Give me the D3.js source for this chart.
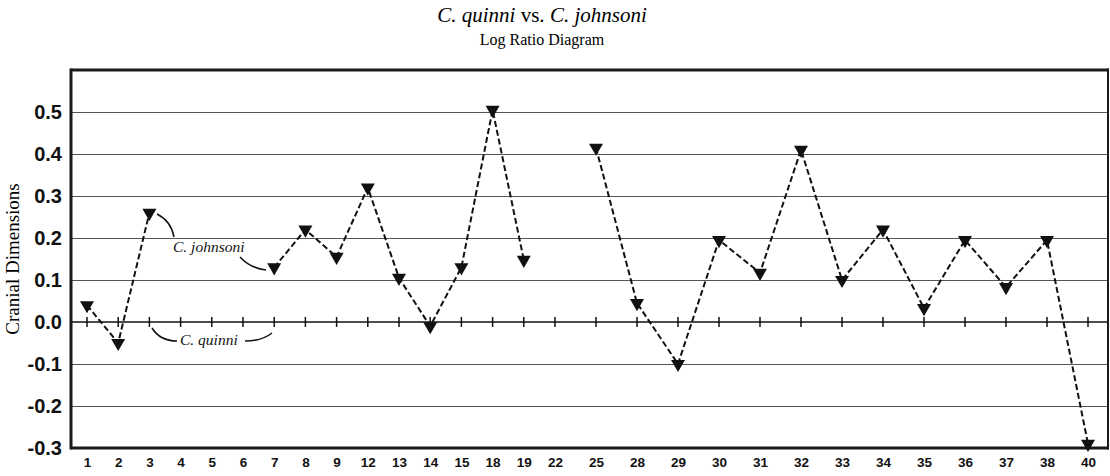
<!DOCTYPE html>
<html>
<head>
<meta charset="utf-8">
<script src="https://cdn.jsdelivr.net/npm/d3@7"></script>
<style>
  html, body { margin: 0; padding: 0; background: #fff; }
  svg { display: block; }
</style>
</head>
<body>
<svg id="chart" width="1110" height="476"></svg>
<script>
// ---- data ----
const categories = ["1","2","3","4","5","6","7","8","9","12","13","14","15","18","19","22","25","28","29","30","31","32","33","34","35","36","37","38","40"];
const logRatios = [0.04,-0.05,0.26,null,null,null,0.13,0.22,0.155,0.32,0.105,-0.01,0.13,0.505,0.148,null,0.415,0.045,-0.1,0.195,0.117,0.41,0.1,0.22,0.033,0.195,0.083,0.195,-0.29];
const yTicks = [-0.3,-0.2,-0.1,0.0,0.1,0.2,0.3,0.4,0.5];
const gridValues = [-0.2,-0.1,0.1,0.2,0.3,0.4,0.5];

(function () {
const svg = d3.select("#chart");
const pLeft = 71, pRight = 1108, pTop = 70, pBottom = 448;

// two panels with different category spacing (composite figure)
const x = d3.scaleLinear().domain([0, 15, 28]).range([87, 555, 1088]);
const y = d3.scaleLinear().domain([-0.3, 0.6]).range([pBottom, pTop]);

// titles
const title = svg.append("text")
  .attr("x", 542).attr("y", 22)
  .attr("text-anchor", "middle")
  .attr("font-family", "Liberation Serif, Times New Roman, serif")
  .attr("font-size", 21);
title.append("tspan").attr("font-style", "italic").text("C. quinni");
title.append("tspan").text(" vs. ");
title.append("tspan").attr("font-style", "italic").text("C. johnsoni");

svg.append("text")
  .attr("x", 542).attr("y", 45)
  .attr("text-anchor", "middle")
  .attr("font-family", "Liberation Serif, Times New Roman, serif")
  .attr("font-size", 16)
  .text("Log Ratio Diagram");

// y label
svg.append("text")
  .attr("transform", `translate(19,${(pTop + pBottom) / 2}) rotate(-90)`)
  .attr("text-anchor", "middle")
  .attr("font-family", "Liberation Serif, Times New Roman, serif")
  .attr("font-size", 19)
  .text("Cranial Dimensions");

// gridlines
const grid = svg.append("g")
  .attr("transform", `translate(${pLeft},0)`)
  .call(d3.axisLeft(y).tickValues(gridValues).tickSize(-(pRight - pLeft)).tickFormat(""));
grid.select(".domain").remove();
grid.selectAll(".tick line").attr("stroke", "#555").attr("stroke-width", 1);

// zero line with category ticks
svg.append("line")
  .attr("x1", pLeft).attr("x2", pRight)
  .attr("y1", y(0)).attr("y2", y(0))
  .attr("stroke", "#111").attr("stroke-width", 1.3);
svg.append("g").selectAll("line")
  .data(categories)
  .join("line")
  .attr("x1", (d, i) => x(i)).attr("x2", (d, i) => x(i))
  .attr("y1", y(0) - 5).attr("y2", y(0) + 5)
  .attr("stroke", "#111").attr("stroke-width", 1.5);

// y axis labels
const yAxis = svg.append("g")
  .attr("transform", `translate(${pLeft},0)`)
  .call(d3.axisLeft(y).tickValues(yTicks).tickSize(0).tickPadding(9).tickFormat(d => d.toFixed(1)));
yAxis.select(".domain").remove();
yAxis.selectAll("text")
  .attr("font-family", "Liberation Sans, Arial, sans-serif")
  .attr("font-weight", "bold")
  .attr("font-size", 20)
  .attr("fill", "#111");

// x axis labels
const xAxis = svg.append("g")
  .attr("transform", `translate(0,${pBottom})`)
  .call(d3.axisBottom(x).tickValues(d3.range(categories.length)).tickSize(0).tickPadding(9).tickFormat(i => categories[i]));
xAxis.select(".domain").remove();
xAxis.selectAll("text")
  .attr("font-family", "Liberation Sans, Arial, sans-serif")
  .attr("font-weight", "bold")
  .attr("font-size", 13.5)
  .attr("fill", "#111");

// frame
const frame = svg.append("g").attr("stroke", "#1a1a1a").attr("fill", "none");
frame.append("line").attr("x1", pLeft).attr("x2", pRight + 1).attr("y1", pTop).attr("y2", pTop).attr("stroke-width", 3);
frame.append("line").attr("x1", pLeft).attr("x2", pRight + 1).attr("y1", pBottom).attr("y2", pBottom).attr("stroke-width", 3);
frame.append("line").attr("x1", pLeft).attr("x2", pLeft).attr("y1", pTop - 1.5).attr("y2", pBottom + 1.5).attr("stroke-width", 3);
frame.append("line").attr("x1", pRight).attr("x2", pRight).attr("y1", pTop - 1.5).attr("y2", pBottom + 1.5).attr("stroke-width", 2);

// data line
const line = d3.line()
  .defined(d => d != null)
  .x((d, i) => x(i))
  .y(d => y(d));
svg.append("path")
  .datum(logRatios)
  .attr("d", line)
  .attr("fill", "none")
  .attr("stroke", "#111")
  .attr("stroke-width", 2)
  .attr("stroke-dasharray", "6,3");

// markers
const pts = logRatios.map((v, i) => ({ i, v })).filter(d => d.v != null);
svg.append("g").selectAll("path")
  .data(pts)
  .join("path")
  .attr("d", d3.symbol(d3.symbolTriangle, 85))
  .attr("transform", d => `translate(${x(d.i)},${y(d.v)}) rotate(180)`)
  .attr("fill", "#111");

// annotations
const ann = svg.append("g")
  .attr("font-family", "Liberation Serif, Times New Roman, serif")
  .attr("font-style", "italic")
  .attr("font-size", 15.5)
  .attr("fill", "#111");
ann.append("text").attr("x", 173).attr("y", 252).text("C. johnsoni");
ann.append("text").attr("x", 180).attr("y", 345).text("C. quinni");

const leaders = svg.append("g").attr("fill", "none").attr("stroke", "#111").attr("stroke-width", 1.5);
leaders.append("path").attr("d", "M157,214 Q171,221 174,237");
leaders.append("path").attr("d", "M240,257 Q250,268 266,270");
leaders.append("path").attr("d", "M152,328 Q160,341 177,341");
leaders.append("path").attr("d", "M245,341 Q262,341 272,333");
})();
</script>
</body>
</html>
